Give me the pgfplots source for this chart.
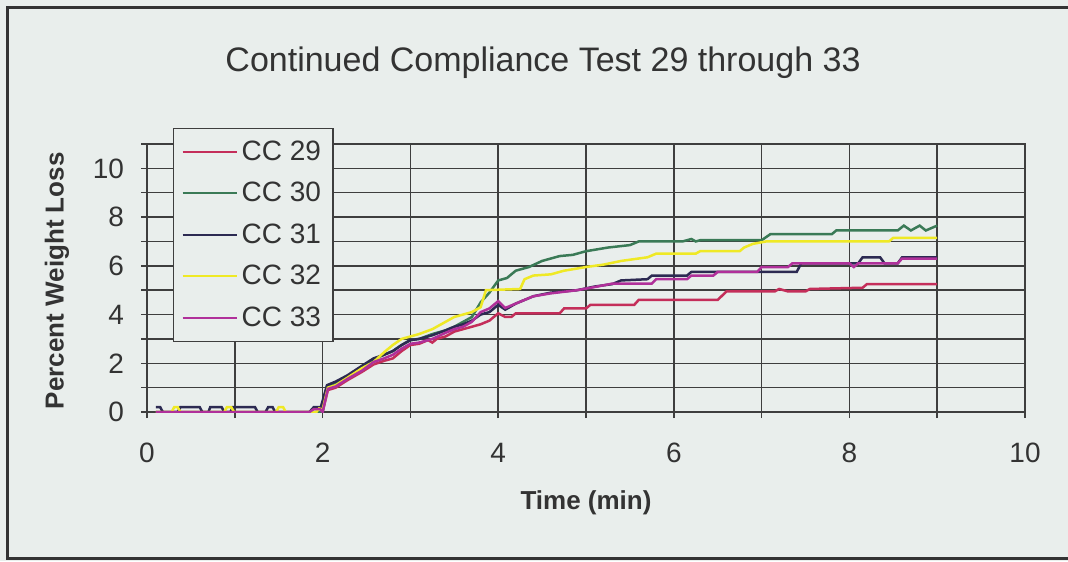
\documentclass[border=0pt]{standalone}
\usepackage{fontspec}
\setmainfont{Liberation Sans}
\usepackage{pgfplots}
\pgfplotsset{compat=1.18}

\definecolor{bg}{HTML}{E9EEEC}
\definecolor{gridc}{HTML}{3E3E3E}
\definecolor{txt}{HTML}{333333}
\definecolor{cc29}{HTML}{C42E5A}
\definecolor{cc30}{HTML}{3A7A56}
\definecolor{cc31}{HTML}{2C2A52}
\definecolor{cc32}{HTML}{EFE925}
\definecolor{cc33}{HTML}{B0309A}

\begin{document}
\begin{tikzpicture}
% page = 1068 x 561 px at 0.5pt per px, plot origin at px (147,412)
\useasboundingbox (-73.5pt,-74.5pt) rectangle (460.5pt,206pt);
\fill[bg] (-73.5pt,-74.5pt) rectangle (460.5pt,206pt);
\draw[black!80, line width=1.5pt] (-69.5pt,-73pt) rectangle (475pt,202pt);

\node[txt, font=\fontsize{17}{17}\selectfont] at (198pt,174.5pt) {Continued Compliance Test 29 through 33};

\begin{axis}[
  at={(0,0)}, anchor=south west,
  scale only axis, width=439pt, height=134pt,
  xmin=0, xmax=10, ymin=0, ymax=11,
  xtick={0,2,...,10}, ytick={0,2,...,10},
  minor xtick={1,3,5,7,9}, minor ytick={1,3,5,7,9,11},
  grid=both,
  major grid style={gridc, line width=0.75pt},
  minor grid style={gridc, line width=0.75pt},
  axis line style={gridc, line width=0.75pt},
  tick style={gridc, line width=0.75pt},
  tick align=outside, major tick length=3pt, minor tick length=3pt,
  xtick pos=left, ytick pos=left,
  /pgf/number format/assume math mode=true,
  tick label style={txt, font=\fontsize{14}{14}\selectfont},
  xticklabel style={yshift=-9pt},
  yticklabel style={xshift=-5pt},
  xlabel={Time (min)},
  ylabel={Percent Weight Loss},
  label style={txt, font=\fontsize{13}{13}\selectfont\bfseries},
  xlabel style={at={(axis description cs:0.5,-0.34)}, anchor=center},
  ylabel style={at={(axis description cs:-0.1025,0.49)}, anchor=center},
  legend style={at={(0.0296,1.06)}, anchor=north west, fill=bg, draw=gridc,
    line width=0.6pt, font=\fontsize{14}{14}\selectfont, text=txt,
    inner xsep=4pt, inner ysep=4pt, row sep=5.5pt},
  legend cell align=left,
  legend image code/.code={\draw[#1, line width=1pt] (0pt,0pt) -- (27pt,0pt);},
  every axis plot/.append style={line width=1.25pt},
]
\addplot[cc29] coordinates {
(0.1,0) (2.0,0) (2.06,0.9) (2.15,1.0) (2.28,1.3) (2.45,1.65) (2.58,1.95)
(2.7,2.1) (2.8,2.2) (2.9,2.5) (3.0,2.75) (3.1,2.8) (3.2,2.95) (3.25,2.85)
(3.3,3.0) (3.4,3.1) (3.5,3.3) (3.6,3.4) (3.7,3.5) (3.8,3.6) (3.9,3.75)
(4.0,4.05) (4.08,3.9) (4.15,3.9) (4.2,4.05) (4.7,4.05) (4.75,4.25) (5.0,4.25)
(5.05,4.4) (5.55,4.4) (5.6,4.6) (6.5,4.6) (6.6,4.95) (7.15,4.95) (7.2,5.05)
(7.3,4.95) (7.5,4.95) (7.55,5.05) (8.15,5.1) (8.2,5.25) (9.0,5.25)
};
\addlegendentry{CC 29}
\addplot[cc30] coordinates {
(0.1,0) (2.0,0) (2.05,1.05) (2.15,1.2) (2.28,1.45) (2.45,1.85) (2.58,2.15)
(2.7,2.35) (2.8,2.5) (2.9,2.75) (3.0,2.95) (3.1,3.0) (3.25,3.2) (3.4,3.35)
(3.5,3.5) (3.6,3.7) (3.7,3.9) (3.8,4.5) (3.9,4.9) (4.0,5.4) (4.1,5.5)
(4.2,5.8) (4.35,5.95) (4.5,6.2) (4.7,6.4) (4.85,6.45) (5.0,6.6) (5.25,6.75)
(5.5,6.85) (5.6,7.0) (6.1,7.0) (6.2,7.1) (6.25,7.0) (6.3,7.05) (7.0,7.05)
(7.1,7.3) (7.8,7.3) (7.85,7.45) (8.55,7.45) (8.62,7.65) (8.7,7.45) (8.8,7.65)
(8.87,7.45) (9.0,7.65)
};
\addlegendentry{CC 30}
\addplot[cc31] coordinates {
(0.1,0.2) (0.15,0.2) (0.18,0) (0.35,0) (0.38,0.2) (0.6,0.2) (0.63,0) (0.7,0)
(0.72,0.2) (0.85,0.2) (0.88,0) (0.95,0) (0.98,0.2) (1.23,0.2) (1.26,0)
(1.35,0) (1.38,0.2) (1.43,0.2) (1.46,0) (1.85,0) (1.9,0.2) (1.98,0.2)
(2.05,1.1) (2.15,1.25) (2.28,1.5) (2.45,1.9) (2.58,2.2) (2.7,2.35) (2.8,2.5)
(2.9,2.75) (3.0,2.95) (3.1,3.0) (3.25,3.15) (3.4,3.35) (3.5,3.5) (3.6,3.6)
(3.7,3.75) (3.8,4.0) (3.9,4.1) (4.0,4.4) (4.08,4.2) (4.2,4.45) (4.4,4.75)
(4.6,4.9) (4.9,5.0) (5.1,5.15) (5.3,5.25) (5.4,5.4) (5.7,5.45) (5.75,5.6)
(6.15,5.6) (6.2,5.75) (7.4,5.75) (7.45,6.1) (8.1,6.1) (8.15,6.35) (8.35,6.35)
(8.4,6.1) (8.55,6.1) (8.6,6.35) (9.0,6.35)
};
\addlegendentry{CC 31}
\addplot[cc32] coordinates {
(0.1,0) (0.28,0) (0.31,0.2) (0.35,0.2) (0.38,0) (0.88,0) (0.91,0.2)
(0.96,0.2) (0.99,0) (1.47,0) (1.5,0.2) (1.55,0.2) (1.58,0) (1.93,0)
(1.96,0.15) (2.0,0.1) (2.06,1.0) (2.15,1.1) (2.28,1.4) (2.45,1.8) (2.58,2.05)
(2.7,2.45) (2.8,2.75) (2.9,3.0) (3.0,3.1) (3.1,3.2) (3.25,3.4) (3.4,3.7)
(3.5,3.9) (3.6,4.0) (3.7,4.1) (3.8,4.3) (3.86,5.0) (4.25,5.05) (4.3,5.45)
(4.4,5.6) (4.6,5.65) (4.75,5.8) (5.0,5.95) (5.2,6.05) (5.4,6.2) (5.7,6.35)
(5.8,6.5) (6.25,6.5) (6.3,6.6) (6.75,6.6) (6.8,6.75) (6.9,6.9) (7.05,7.0)
(8.45,7.0) (8.5,7.15) (9.0,7.15)
};
\addlegendentry{CC 32}
\addplot[cc33] coordinates {
(0.1,0) (1.85,0) (1.9,0.12) (1.97,0.12) (2.0,0) (2.06,0.95) (2.15,1.05)
(2.28,1.35) (2.45,1.7) (2.58,2.05) (2.7,2.2) (2.8,2.35) (2.9,2.6) (3.0,2.8)
(3.1,2.85) (3.25,3.0) (3.4,3.25) (3.5,3.4) (3.6,3.5) (3.7,3.7) (3.8,4.1)
(3.9,4.25) (4.0,4.55) (4.08,4.27) (4.2,4.45) (4.4,4.75) (4.6,4.87) (4.9,5.0)
(5.1,5.13) (5.3,5.27) (5.75,5.27) (5.8,5.45) (6.15,5.45) (6.2,5.6) (6.45,5.6)
(6.5,5.75) (6.95,5.75) (7.0,5.95) (7.3,5.95) (7.35,6.1) (8.0,6.1) (8.05,5.95)
(8.1,6.1) (8.55,6.1) (8.6,6.3) (9.0,6.3)
};
\addlegendentry{CC 33}
\end{axis}
\end{tikzpicture}
\end{document}
